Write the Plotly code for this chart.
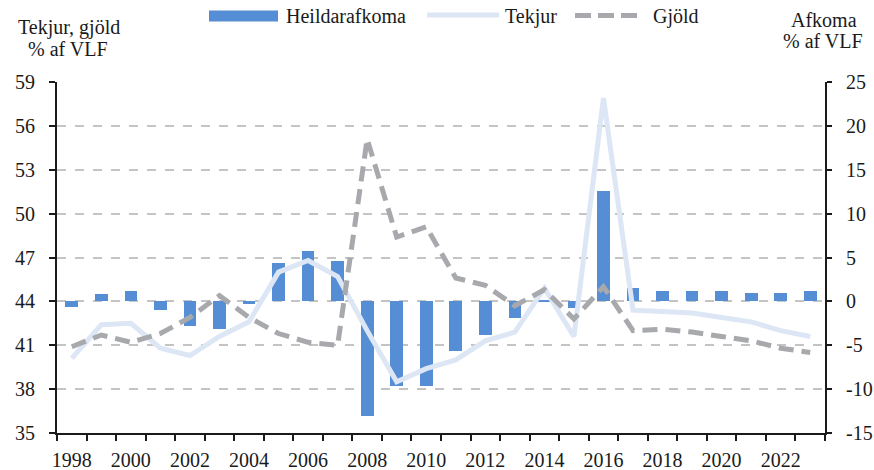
import plotly.graph_objects as go

years = list(range(1998, 2024))
heildarafkoma = [-0.6, 0.8, 1.2, -1.0, -2.8, -3.1, -0.3, 4.4, 5.7, 4.6, -13.1, -9.7, -9.7,
                 -5.6, -3.8, -1.9, 0.2, -0.8, 12.6, 1.5, 1.2, 1.2, 1.2, 0.9, 0.9, 1.2]
tekjur = [40.1, 42.4, 42.5, 40.8, 40.3, 41.6, 42.6, 46.0, 46.8, 45.7, 42.0, 38.5, 39.4,
          40.0, 41.3, 41.9, 44.9, 41.6, 57.9, 43.4, 43.3, 43.2, 42.9, 42.6, 42.0, 41.6]
gjold = [40.9, 41.7, 41.2, 41.8, 42.9, 44.4, 42.9, 41.8, 41.2, 41.0, 55.1, 48.4, 49.1,
         45.6, 45.1, 43.7, 44.8, 42.8, 45.0, 42.0, 42.1, 41.9, 41.6, 41.3, 40.8, 40.5]

left_ticks = [35, 38, 41, 44, 47, 50, 53, 56, 59]
right_ticks = [-15, -10, -5, 0, 5, 10, 15, 20, 25]
right_ticktext = ["-15", "-10", "-5", "0", "5", "10", "15", "20", "25"]
x_ticks = list(range(1998, 2023, 2))

FONT = "Liberation Serif"
TXT = "#1a1a1a"
BAR_C = "#558ED5"
TEK_C = "#DCE6F5"
GJO_C = "#A8A9AD"
GJO_DASH = "15px,8px"

# plot-area geometry (px) used to place the hand-drawn legend
L, R, T, B = 57, 825, 82, 433
W, H = R - L, B - T
def px(xp):
    return (xp - L) / W
def py(yp):
    return (B - yp) / H

fig = go.Figure()
fig.add_trace(go.Bar(x=years, y=heildarafkoma, name="Heildarafkoma", width=0.43,
                     marker=dict(color=BAR_C, line=dict(width=0)), yaxis="y"))
fig.add_trace(go.Scatter(x=years, y=tekjur, name="Tekjur", mode="lines",
                         line=dict(color=TEK_C, width=5), yaxis="y2"))
fig.add_trace(go.Scatter(x=years, y=gjold, name="Gjöld", mode="lines",
                         line=dict(color=GJO_C, width=5, dash=GJO_DASH), yaxis="y2"))

shapes = [
    dict(type="rect", xref="paper", yref="paper", x0=px(209), x1=px(278),
         y0=py(21.5), y1=py(10.5), fillcolor=BAR_C, line=dict(width=0)),
    dict(type="line", xref="paper", yref="paper", x0=px(427), x1=px(499),
         y0=py(15), y1=py(15), line=dict(color=TEK_C, width=5)),
    dict(type="line", xref="paper", yref="paper", x0=px(575), x1=px(642),
         y0=py(15.5), y1=py(15.5), line=dict(color=GJO_C, width=5, dash="16px,7px")),
]

def ann(text, xp, yp, xanchor="left"):
    return dict(text=text, xref="paper", yref="paper", x=px(xp), y=py(yp),
                xanchor=xanchor, yanchor="middle", showarrow=False,
                font=dict(family=FONT, size=20, color=TXT))

annotations = [
    ann("Heildarafkoma", 284, 16),
    ann("Tekjur", 503, 16),
    ann("Gjöld", 651, 16),
    ann("Tekjur, gjöld", 69, 27, "center"),
    ann("% af VLF", 68, 49, "center"),
    ann("Afkoma", 824, 20, "center"),
    ann("% af VLF", 823, 41, "center"),
]

fig.update_layout(
    width=874, height=470,
    margin=dict(l=L, r=874 - R, t=T, b=470 - B, autoexpand=False),
    paper_bgcolor="white", plot_bgcolor="white",
    font=dict(family=FONT, size=20, color=TXT),
    showlegend=False,
    bargap=0,
    shapes=shapes,
    annotations=annotations,
    xaxis=dict(range=[1997.5, 2023.5], tickmode="array", tickvals=x_ticks,
               ticks="", showline=True, linecolor=TXT, linewidth=2,
               showgrid=False, zeroline=False, automargin=False,
               ticklabelstandoff=8,
               minor=dict(tickmode="linear", tick0=1997.5, dtick=1, ticks="outside",
                          ticklen=6, tickwidth=2, tickcolor=TXT, showgrid=False)),
    yaxis=dict(side="right", range=[-15, 25], tickmode="array", tickvals=right_ticks,
               ticktext=right_ticktext, ticks="outside", ticklen=5, tickwidth=2,
               tickcolor=TXT, showline=True, linecolor=TXT, linewidth=2,
               showgrid=True, gridcolor="#C4C4C4", griddash="dash", gridwidth=1.5,
               zeroline=False, automargin=False, ticklabelstandoff=10),
    yaxis2=dict(side="left", overlaying="y", range=[35, 59], tickmode="array",
                tickvals=left_ticks, ticks="outside", ticklen=6, tickwidth=2,
                tickcolor=TXT, showline=True, linecolor=TXT, linewidth=2,
                showgrid=False, zeroline=False, automargin=False,
                ticklabelstandoff=10),
)
fig.write_html("out.html", config={"displayModeBar": False},
               post_script="document.body.style.margin='0';document.body.style.padding='0';")
